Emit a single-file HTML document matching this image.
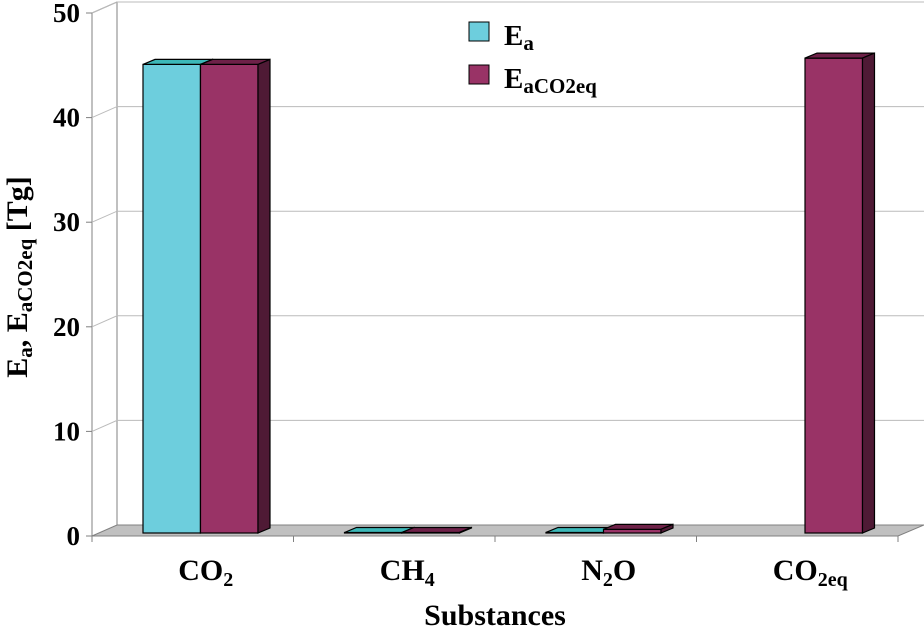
<!DOCTYPE html>
<html><head><meta charset="utf-8"><style>
body{margin:0;background:#fff}
svg{display:block;font-family:"Liberation Serif",serif;font-weight:bold}
</style></head><body>
<svg id="chart" width="924" height="629" viewBox="0 0 924 629" xmlns="http://www.w3.org/2000/svg">
<g id="axes"></g><g id="bars"></g>
<g>
<rect x="469" y="22" width="20" height="19" fill="#6dcedd" stroke="#000" stroke-width="1"/>
<text x="504" y="45" font-size="29">E<tspan font-size="21" dy="5">a</tspan></text>
<rect x="469" y="65" width="20" height="19" fill="#993366" stroke="#000" stroke-width="1"/>
<text x="504" y="88" font-size="29">E<tspan font-size="21" dy="5">aCO2eq</tspan></text>
</g>
<text x="495" y="625" font-size="30" text-anchor="middle">Substances</text>
<text transform="translate(27,277) rotate(-90)" font-size="30" text-anchor="middle">E<tspan font-size="21" dy="5">a</tspan><tspan dy="-5">, E</tspan><tspan font-size="21" dy="5">aCO2eq</tspan><tspan dy="-5"> [Tg]</tspan></text>
</svg>
<script>
const categories=["CO2","CH4","N2O","CO2eq"];
const seriesEa=[44.8,0.02,0.05,0];
const seriesEaCO2eq=[44.8,0.05,0.35,45.4];
const yTicks=[0,10,20,30,40,50];
const NS="http://www.w3.org/2000/svg";
const axes=document.getElementById('axes'),bars=document.getElementById('bars');
const DX=25,DY=-11,x0=92,y0=536,yTop=13,catW=201.5;
const yF=v=>y0-(v/50)*(y0-yTop);
const xCat=i=>x0+i*catW;
function mk(tag,at,parent){const e=document.createElementNS(NS,tag);for(const k in at)e.setAttribute(k,at[k]);parent.appendChild(e);return e;}
let w=mk('path',{d:`M${x0+DX},${yF(0)+DY} V${yF(50)+DY} M${x0},${yF(0)} V${yF(50)} L${x0+DX},${yF(50)+DY}`,fill:'none',stroke:'#808080'},axes);


let fl=mk('polygon',{points:`${x0},${y0} ${x0+DX},${y0+DY} ${924},${y0+DY} ${898},${y0}`,fill:'#c0c0c0',stroke:'#808080'},axes);


yTicks.forEach(t=>{
  const y=yF(t);
  if(t>0){const g=mk('path',{d:`M${x0},${y} L${x0+DX},${y+DY} H924`,fill:'none',stroke:'#bbbbbb'},axes);
  
  }
  const tk=mk('line',{x1:x0-6,x2:x0,y1:y,y2:y,stroke:'#808080'},axes);
  
  
  const tx=mk('text',{x:x0-12,y:y+9,'font-size':27,'text-anchor':'end'},axes);tx.textContent=t;
  
  
});
for(let i=0;i<=categories.length;i++){
  const l=mk('line',{x1:xCat(i),x2:xCat(i),y1:y0,y2:y0+6,stroke:'#808080'},axes);
  
  
}
const subs={"CO2":["CO","2"],"CH4":["CH","4"],"N2O":["N","2","O"],"CO2eq":["CO","2eq"]};
categories.forEach((c,i)=>{
  const t=mk('text',{x:xCat(i)+catW/2+13,y:580,'font-size':30,'text-anchor':'middle'},axes);
  const p=subs[c];t.innerHTML=`${p[0]}<tspan font-size="20" dy="6">${p[1]}</tspan>`+(p[2]?`<tspan dy="-6">${p[2]}</tspan>`:'');
  
  
});
const bw=57.5,bdx=12,bdy=-5,base=533;
const sc=(y0-yTop)/50;
function bar(x,v,col,top,side,name){
  if(v<=0)return;
  const h=Math.max(v*sc,0.5),yt=base-h;
  const g=mk('g',{stroke:'#000','stroke-width':1.2},bars);
  
  
  mk('rect',{x:x,y:yt,width:bw,height:h,fill:col},g);
  mk('polygon',{points:`${x},${yt} ${x+bdx},${yt+bdy} ${x+bw+bdx},${yt+bdy} ${x+bw},${yt}`,fill:top},g);
  mk('polygon',{points:`${x+bw},${yt} ${x+bw+bdx},${yt+bdy} ${x+bw+bdx},${base+bdy} ${x+bw},${base}`,fill:side},g);
}
categories.forEach((c,i)=>{
  const xs=xCat(i)+51;
  bar(xs,seriesEa[i],'#6dcedd','#3cb8b8','#3a9aa8','bar-ea-'+c.toLowerCase());
  bar(xs+bw,seriesEaCO2eq[i],'#993366','#6e2148','#4f1a35','bar-eaco2eq-'+c.toLowerCase());
});
</script>
</body></html>
